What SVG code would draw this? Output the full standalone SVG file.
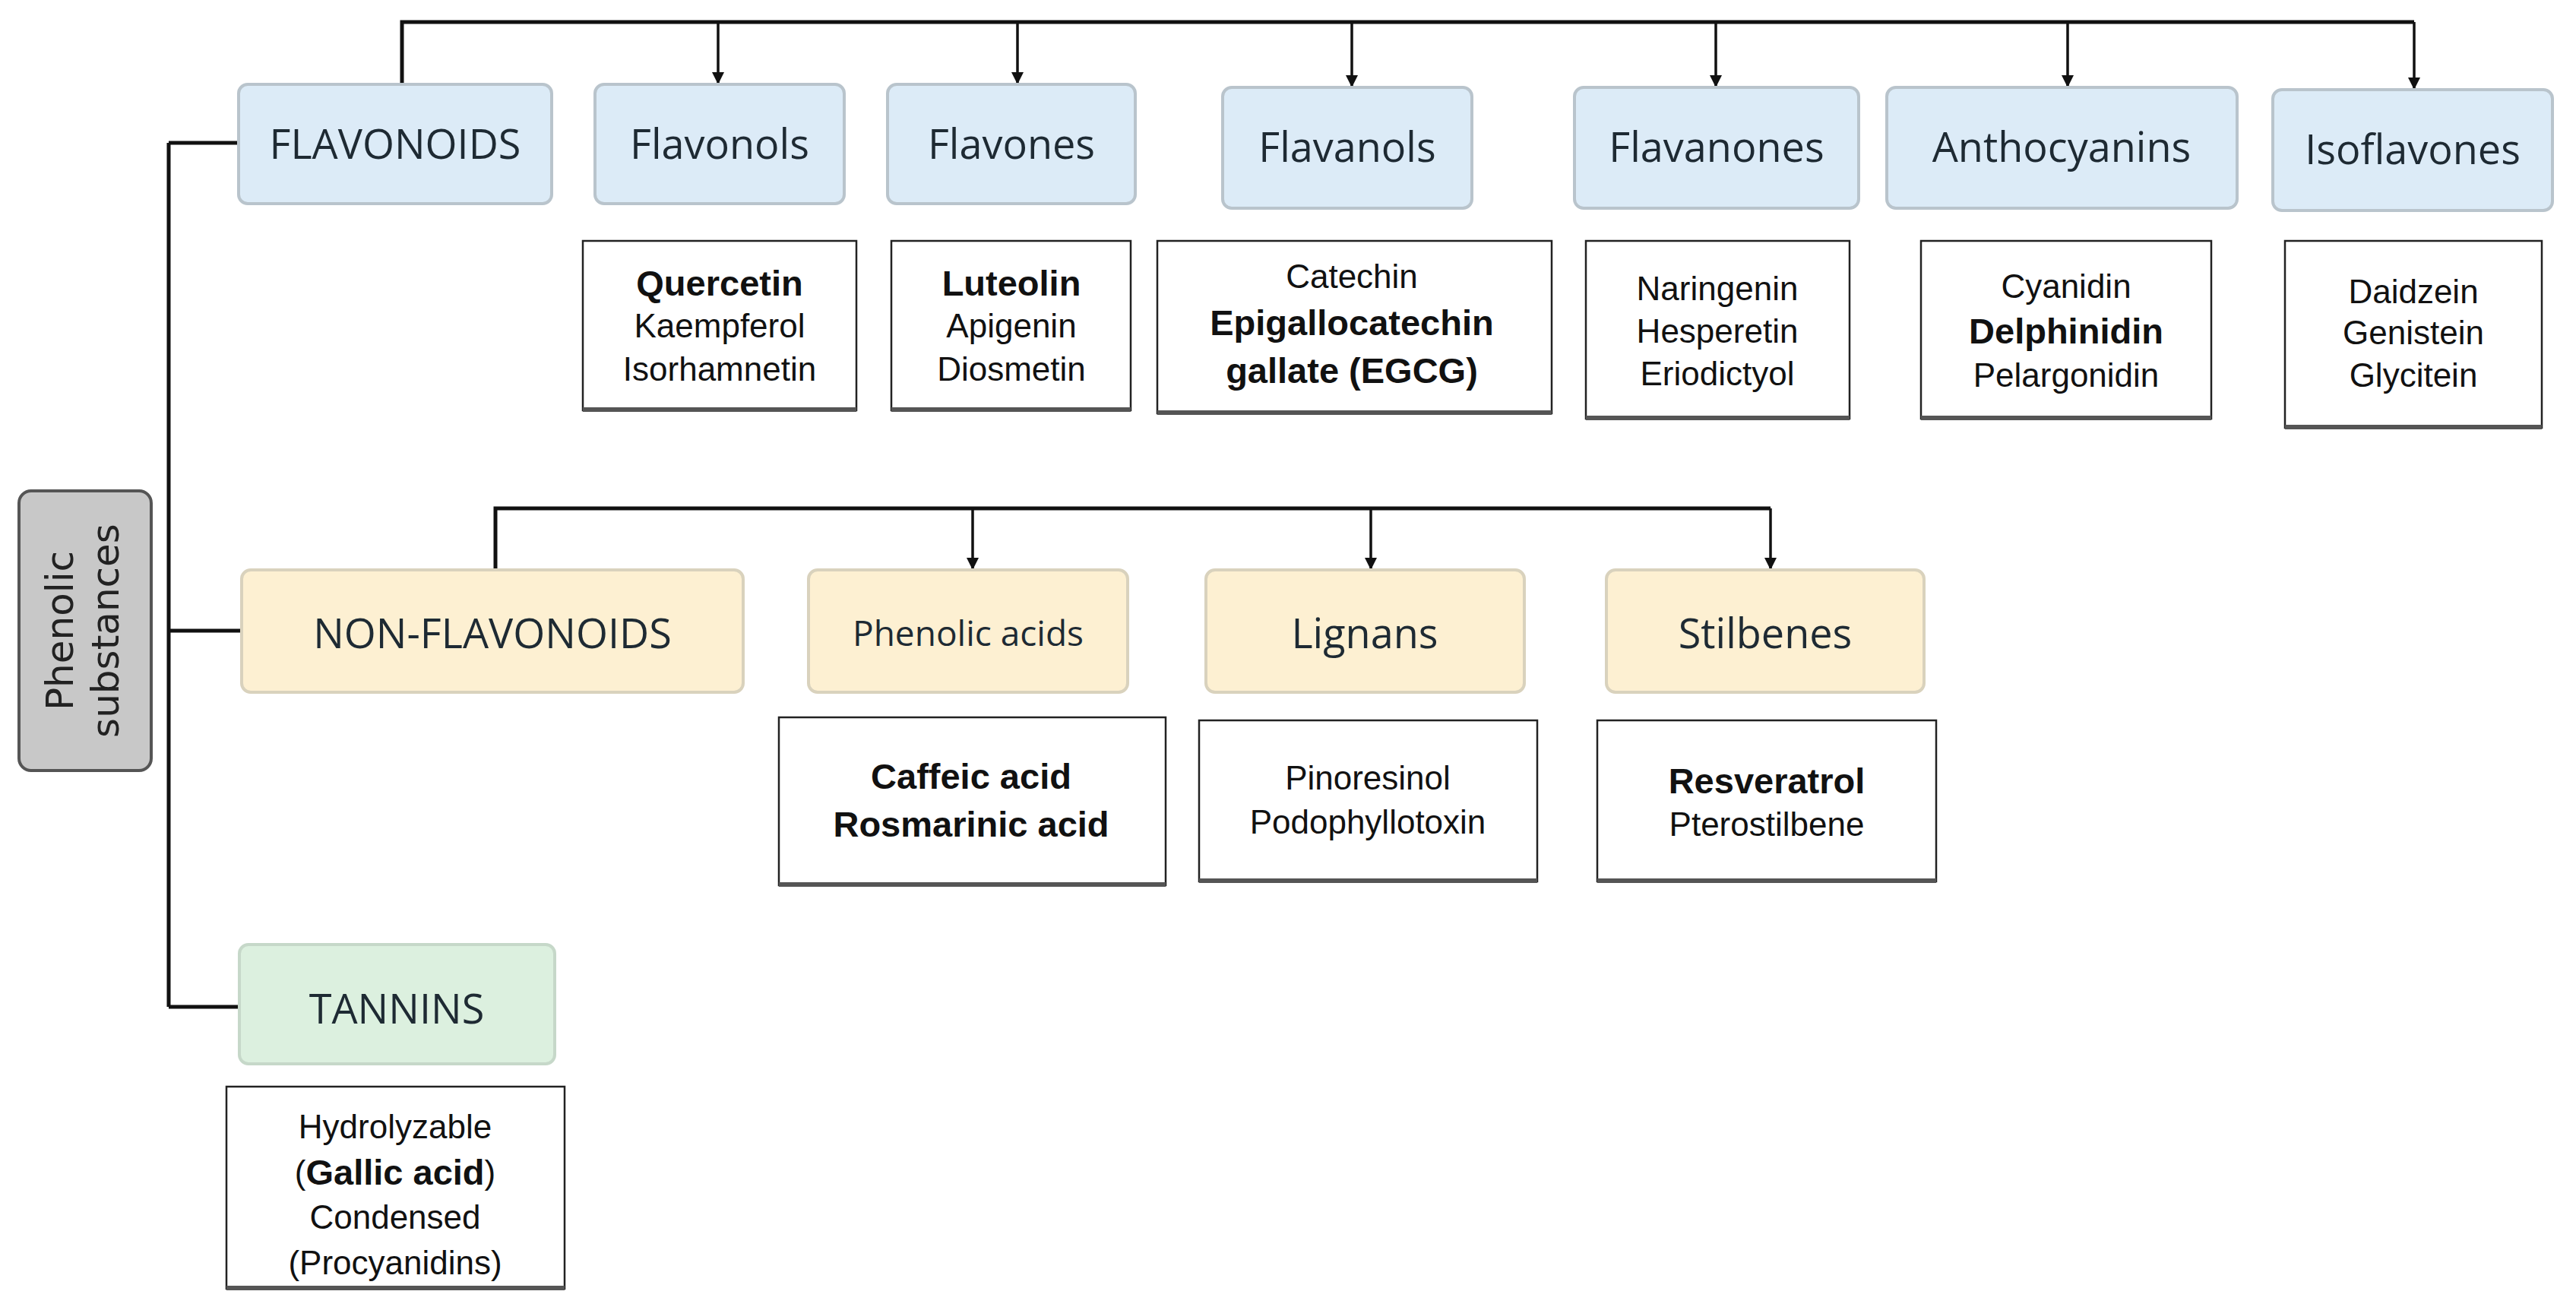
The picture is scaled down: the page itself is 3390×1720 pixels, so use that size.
<svg xmlns="http://www.w3.org/2000/svg" width="3390" height="1720" viewBox="0 0 3390 1720">
<style>
.lbl{font-family:"Open Sans","Liberation Sans",sans-serif;font-size:54px;fill:#1e2a33;text-anchor:middle;dominant-baseline:central}
.b{fill:#dcebf7;stroke:#b9c4cc;stroke-width:4}
.y{fill:#fdf0d2;stroke:#d9d2bd;stroke-width:4}
.g{fill:#dcf0df;stroke:#c6d8c9;stroke-width:4}
.d{fill:#fff;stroke:#222;stroke-width:2.5}
.t{font-family:"Liberation Sans",Arial,sans-serif;font-size:44px;fill:#111;text-anchor:middle;dominant-baseline:central}
.tb{font-weight:bold;font-size:47px}
.c{fill:none;stroke:#111;stroke-width:5}
.a{fill:none;stroke:#111;stroke-width:3.5;marker-end:url(#ah)}
.sh{stroke:#555;stroke-width:6}
</style>
<defs>
<marker id="ah" viewBox="0 0 10 10" refX="10" refY="5" markerWidth="16" markerHeight="18" markerUnits="userSpaceOnUse" orient="auto"><path d="M0,0L10,5L0,10z" fill="#111"/></marker></defs>
<g id="connectors">
<path class="c" d="M222,188V1325M222,188H314M222,830H318M222,1325H315"/>
<path class="c" d="M529,111V29H3177"/>
<path class="a" d="M945,29V111"/><path class="a" d="M1339,29V111"/><path class="a" d="M1779,29V115"/><path class="a" d="M2258,29V115"/><path class="a" d="M2721,29V115"/><path class="a" d="M3177,29V118"/>
<path class="c" d="M652,750V669H2330"/>
<path class="a" d="M1280,669V750"/><path class="a" d="M1804,669V750"/><path class="a" d="M2330,669V750"/>
</g>
<g id="phenolic"><rect x="25" y="646" width="174" height="368" rx="16" fill="#c8c8c8" stroke="#555" stroke-width="4"/>
<text transform="translate(112,830) rotate(-90)" style="font-family:'DejaVu Sans',Verdana,sans-serif;font-size:50px;fill:#222;text-anchor:middle"><tspan x="0" y="-16">Phenolic</tspan><tspan x="0" y="44">substances</tspan></text></g>
<g id="flavonoids"><rect class="b" x="314" y="111" width="412" height="157" rx="12"/><text class="lbl" x="520" y="188">FLAVONOIDS</text></g>
<g id="flavonols"><rect class="b" x="783" y="111" width="328" height="157" rx="12"/><text class="lbl" x="947" y="188">Flavonols</text></g>
<g id="flavones"><rect class="b" x="1168" y="111" width="326" height="157" rx="12"/><text class="lbl" x="1331" y="188">Flavones</text></g>
<g id="flavanols"><rect class="b" x="1609" y="115" width="328" height="159" rx="12"/><text class="lbl" x="1773" y="192">Flavanols</text></g>
<g id="flavanones"><rect class="b" x="2072" y="115" width="374" height="159" rx="12"/><text class="lbl" x="2259" y="192">Flavanones</text></g>
<g id="anthocyanins"><rect class="b" x="2483" y="115" width="461" height="159" rx="12"/><text class="lbl" x="2713" y="192">Anthocyanins</text></g>
<g id="isoflavones"><rect class="b" x="2991" y="118" width="368" height="159" rx="12"/><text class="lbl" x="3175" y="195">Isoflavones</text></g>
<g id="d-flavonols"><rect class="d" x="767" y="317" width="360" height="223"/><path class="sh" d="M767,539H1127"/><text class="t tb" x="947" y="372">Quercetin</text><text class="t" x="947" y="428">Kaempferol</text><text class="t" x="947" y="485">Isorhamnetin</text></g>
<g id="d-flavones"><rect class="d" x="1173" y="317" width="315" height="223"/><path class="sh" d="M1173,539H1488"/><text class="t tb" x="1331" y="372">Luteolin</text><text class="t" x="1331" y="428">Apigenin</text><text class="t" x="1331" y="485">Diosmetin</text></g>
<g id="d-flavanols"><rect class="d" x="1523" y="317" width="519" height="227"/><path class="sh" d="M1523,543H2042"/><text class="t" x="1779" y="363">Catechin</text><text class="t tb" x="1779" y="424">Epigallocatechin</text><text class="t tb" x="1779" y="487">gallate (EGCG)</text></g>
<g id="d-flavanones"><rect class="d" x="2087" y="317" width="347" height="234"/><path class="sh" d="M2087,550H2434"/><text class="t" x="2260" y="379">Naringenin</text><text class="t" x="2260" y="435">Hesperetin</text><text class="t" x="2260" y="491">Eriodictyol</text></g>
<g id="d-anthocyanins"><rect class="d" x="2528" y="317" width="382" height="234"/><path class="sh" d="M2528,550H2910"/><text class="t" x="2719" y="376">Cyanidin</text><text class="t tb" x="2719" y="435">Delphinidin</text><text class="t" x="2719" y="493">Pelargonidin</text></g>
<g id="d-isoflavones"><rect class="d" x="3007" y="317" width="338" height="246"/><path class="sh" d="M3007,562H3345"/><text class="t" x="3176" y="383">Daidzein</text><text class="t" x="3176" y="437">Genistein</text><text class="t" x="3176" y="493">Glycitein</text></g>
<g id="nonflavonoids"><rect class="y" x="318" y="750" width="660" height="161" rx="12"/><text class="lbl" x="648" y="832">NON-FLAVONOIDS</text></g>
<g id="phenolicacids"><rect class="y" x="1064" y="750" width="420" height="161" rx="12"/><text class="lbl" x="1274" y="832" style="font-size:46px">Phenolic acids</text></g>
<g id="lignans"><rect class="y" x="1587" y="750" width="419" height="161" rx="12"/><text class="lbl" x="1796" y="832">Lignans</text></g>
<g id="stilbenes"><rect class="y" x="2114" y="750" width="418" height="161" rx="12"/><text class="lbl" x="2323" y="832">Stilbenes</text></g>
<g id="d-phenolicacids"><rect class="d" x="1025" y="944" width="509" height="221"/><path class="sh" d="M1025,1164H1534"/><text class="t tb" x="1278" y="1021">Caffeic acid</text><text class="t tb" x="1278" y="1084">Rosmarinic acid</text></g>
<g id="d-lignans"><rect class="d" x="1578" y="948" width="445" height="212"/><path class="sh" d="M1578,1159H2023"/><text class="t" x="1800" y="1023">Pinoresinol</text><text class="t" x="1800" y="1081">Podophyllotoxin</text></g>
<g id="d-stilbenes"><rect class="d" x="2102" y="948" width="446" height="212"/><path class="sh" d="M2102,1159H2548"/><text class="t tb" x="2325" y="1027">Resveratrol</text><text class="t" x="2325" y="1084">Pterostilbene</text></g>
<g id="tannins"><rect class="g" x="315" y="1243" width="415" height="157" rx="12"/><text class="lbl" x="522" y="1326">TANNINS</text></g>
<g id="d-tannins"><rect class="d" x="298" y="1430" width="445" height="266"/><path class="sh" d="M298,1695H743"/><text class="t" x="520" y="1482">Hydrolyzable</text><text class="t" x="520" y="1542">(<tspan font-weight="bold" font-size="47">Gallic acid</tspan>)</text><text class="t" x="520" y="1601">Condensed</text><text class="t" x="520" y="1661">(Procyanidins)</text></g>
</svg>
